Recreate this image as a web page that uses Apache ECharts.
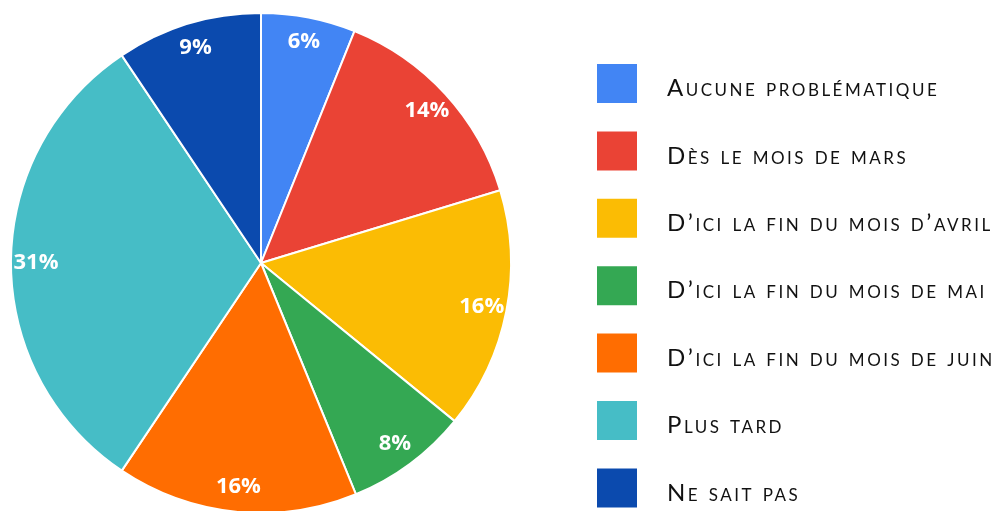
<!DOCTYPE html>
<html><head><meta charset="utf-8">
<script src="https://cdn.jsdelivr.net/npm/echarts@6/dist/echarts.min.js"></script>
<style>html,body{margin:0;padding:0;background:#fff}#c{width:1000px;height:511px}</style>
</head><body><div id="c"></div>
<script>
const categories = ["Aucune problématique","Dès le mois de mars","D’ici la fin du mois d’avril","D’ici la fin du mois de mai","D’ici la fin du mois de juin","Plus tard","Ne sait pas"];
const values = [6.1,14.2,15.6,7.9,15.6,31.2,9.4];
const colors = ["#4285f4","#ea4335","#fbbc04","#34a853","#ff6d01","#46bdc6","#0b4aae"];

const data = categories.map((n,i)=>({name:n,value:values[i],itemStyle:{color:colors[i]}}));
const chart = echarts.init(document.getElementById('c'),null,{renderer:'canvas'});
const legendFont = {fontFamily:'Lato', fontStyle:'small-caps', fontSize:24, color:'#111'};
const option = {
  animation:false,
  legend:{
    orient:'vertical', left:595, top:62, height:510, padding:0, zlevel:1,
    itemWidth:42, itemHeight:41, itemGap:24.4,
    icon:'rect', selectedMode:false,
    data:categories,
    formatter: n => '{t|' + n + '}',
    textStyle:Object.assign({}, legendFont, {
      rich:{ t:Object.assign({}, legendFont, {padding:[10,0,0,24]}) }
    })
  },
  series:[
    {type:'pie', center:[261,263], radius:[0,250], startAngle:90, clockwise:true,
     data:data, label:{show:false}, labelLine:{show:false},
     itemStyle:{borderColor:'#fff', borderWidth:2}, silent:true},
    {type:'pie', center:[261,263], radius:[194,250], startAngle:90, clockwise:true,
     data:data.map(d=>({name:d.name,value:d.value,itemStyle:{color:'rgba(0,0,0,0)'}})),
     label:{show:true, position:'inside', formatter:p=>Math.round(p.value)+'%', color:'#fff', fontFamily:'Open Sans', fontWeight:'bold', fontSize:22},
     labelLine:{show:false}, itemStyle:{borderWidth:0}, silent:true}
  ]
};
chart.setOption(option);
try{
  const layer = chart.getZr().painter.getLayer(1);
  if(layer && layer.ctx){ layer.ctx.letterSpacing='2.5px'; }
  chart.setOption(option,true);
}catch(e){}
</script></body></html>
